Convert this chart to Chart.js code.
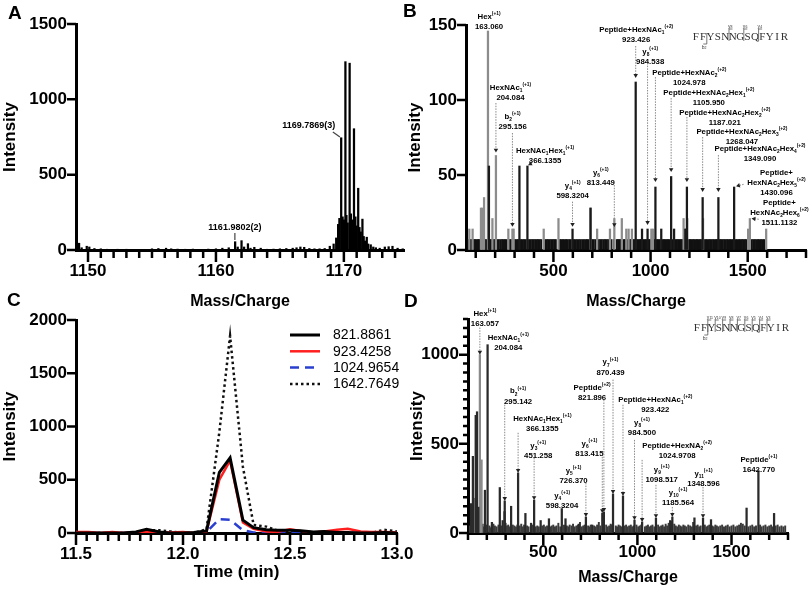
<!DOCTYPE html>
<html><head><meta charset="utf-8">
<script src="https://cdn.jsdelivr.net/npm/chart.js@4.4.1/dist/chart.umd.min.js"></script>
<style>
html,body{margin:0;padding:0;background:#fff}
#fig{position:relative;width:810px;height:593px;overflow:hidden;background:#fff}
canvas{position:absolute}
.lt{position:absolute;font:bold 19px 'Liberation Sans',Arial,sans-serif;line-height:19px;color:#000}
</style></head><body>
<div id="fig">
<canvas id="cA" width="410" height="312" style="left:0px;top:0px"></canvas>
<canvas id="cB" width="405" height="312" style="left:405px;top:0px"></canvas>
<canvas id="cC" width="440" height="303" style="left:0px;top:290px"></canvas>
<canvas id="cD" width="405" height="303" style="left:405px;top:290px"></canvas>
<div class="lt" style="left:8px;top:3px">A</div>
<div class="lt" style="left:403px;top:1px">B</div>
<div class="lt" style="left:7px;top:290px">C</div>
<div class="lt" style="left:404px;top:291px">D</div>
</div>
<script>
// ---------------- DATA ----------------
// Panel A: MS1 spectrum (m/z, intensity)
const aMz = [1149.3,1149.5,1149.9,1150.1,1150.5,1151.0,1151.5,1152.3,1153.0,1154.0,1155.0,1155.5,1156.1,1156.5,1157.0,1157.6,1158.2,1158.7,1159.4,1160.0,1160.5,1161.0,1161.5,1161.7,1162.0,1162.2,1162.5,1162.7,1163.0,1163.5,1164.0,1164.5,1165.0,1165.5,1166.0,1166.3,1166.6,1166.9,1167.3,1167.7,1168.1,1168.5,1168.9,1169.2,1169.4,1169.55,1169.65,1169.79,1169.9,1170.0,1170.12,1170.2,1170.3,1170.45,1170.55,1170.65,1170.79,1170.9,1171.0,1171.12,1171.22,1171.32,1171.45,1171.55,1171.65,1171.79,1171.9,1172.1,1172.3,1172.5,1172.8,1173.2,1173.5,1173.8,1174.2,1174.6];
const aInt = [45,15,25,20,10,8,5,5,5,4,8,10,12,8,6,5,6,4,6,8,12,15,55,20,62,20,42,12,18,12,5,6,8,10,12,15,20,18,10,8,8,10,25,40,80,170,210,745,220,200,1250,230,180,1240,240,200,805,220,160,410,150,120,205,90,60,85,40,35,20,15,12,20,22,25,12,8];
const aXTicks = [1150,1160,1170];
const aYTicks = [0,500,1000,1500];

// Panel B: MS2 spectrum
const bGrayMz  = [67,84,127,134,143,163.06,186,204.08,268,289,295.16,450,526,691,725,791,813.45,852,875,887,904,1004,1012,1170,1179,1189,1270,1502,1511.11,1595];
const bGrayInt = [14,14,28,28,35,146,21,63,14,14,14,14,21,28,14,14,21,21,14,14,14,14,14,21,14,21,21,14,21,14];
const bBlackMz  = [168,325,366.14,598.32,691,923.43,956,984.54,1024.98,1055,1105.95,1121,1179,1187.02,1268.05,1349.09,1430.1];
const bBlackInt = [56,56,56,14,28,112,14,14,42,14,49,14,14,42,35,35,42];
const bNoise = [[62,7],[71,7],[79,7],[90,7],[97,7],[104,7],[112,7],[118,7],[126,7],[139,7],[148,7],[155,7],[174,7],[181,7],[192,7],[198,7],[211,7],[219,7],[228,7],[236,7],[243,7],[251,7],[259,7],[274,7],[281,7],[302,7],[311,7],[318,7],[333,7],[341,7],[349,7],[357,7],[375,7],[383,7],[391,7],[398,7],[406,7],[414,7],[421,7],[429,7],[437,7],[458,7],[466,7],[473,7],[481,7],[489,7],[497,7],[505,7],[512,7],[534,7],[541,7],[549,7],[557,7],[565,7],[572,7],[581,7],[589,7],[606,7],[614,7],[622,7],[631,7],[639,7],[648,7],[657,7],[666,7],[673,7],[681,7],[699,7],[707,7],[716,7],[733,7],[741,7],[749,7],[758,7],[766,7],[774,7],[782,7],[797,7],[810,7],[826,7],[833,7],[840,7],[846,7],[861,7],[868,7],[880,7],[893,7],[898,7],[910,7],[917,7],[931,7],[938,7],[945,7],[951,7],[962,7],[970,7],[977,7],[992,7],[999,7],[1019,7],[1033,7],[1040,7],[1047,7],[1062,7],[1069,7],[1076,7],[1083,7],[1090,7],[1097,7],[1114,7],[1128,7],[1135,7],[1142,7],[1149,7],[1156,7],[1163,7],[1184,7],[1196,7],[1203,7],[1210,7],[1217,7],[1224,7],[1232,7],[1239,7],[1246,7],[1254,7],[1261,7],[1277,7],[1285,7],[1292,7],[1300,7],[1307,7],[1314,7],[1322,7],[1329,7],[1337,7],[1343,7],[1357,7],[1364,7],[1371,7],[1379,7],[1386,7],[1394,7],[1401,7],[1409,7],[1416,7],[1424,7],[1440,7],[1447,7],[1455,7],[1462,7],[1470,7],[1477,7],[1485,7],[1492,7],[1521,7],[1529,7],[1537,7],[1545,7],[1553,7],[1560,7],[1568,7],[1576,7],[1584,7]];
const bXTicks = [500,1000,1500];
const bYTicks = [0,50,100,150];

// Panel C: extracted ion chromatograms
const cTimes = [11.5,11.56,11.61,11.67,11.72,11.78,11.83,11.89,11.94,12.0,12.05,12.11,12.17,12.22,12.28,12.33,12.39,12.44,12.5,12.55,12.61,12.66,12.72,12.77,12.83,12.88,12.94,13.0];
const c821  = [0,0,0,0,0,10,35,10,0,0,5,20,570,705,120,50,30,25,25,20,10,15,5,5,0,0,5,0];
const c923  = [10,10,0,10,0,5,15,0,5,10,0,15,500,680,100,40,15,10,35,20,5,15,30,40,15,10,10,5];
const c1024 = [0,0,0,0,0,0,0,0,0,0,0,10,130,125,25,5,0,0,10,5,0,0,0,0,0,0,0,0];
const c1642 = [0,0,0,0,0,0,25,25,15,0,0,35,950,1850,620,75,60,25,15,5,0,10,5,0,0,0,30,15];
const cSeriesNames = ['821.8861','923.4258','1024.9654','1642.7649'];
const cXTicks = [11.5,12.0,12.5,13.0];
const cYTicks = [0,500,1000,1500,2000];

// Panel D: MS2 spectrum
const dMainMz  = [116,126,141,148,155,190,204.08,227,269,284,294,295.14,329,366.14,405,435,451.26,486,530,598.32,618,689,726.37,760,813.42,821.9,870.44,923.42,984.5,1024.97,1098.52,1174,1185.56,1303,1348.6,1391,1580,1642.77,1726];
const dMainInt = [165,430,660,680,145,240,1056,60,255,70,120,180,150,337,110,55,185,70,80,137,80,50,90,45,112,118,219,208,73,62,84,70,90,85,84,75,140,350,110];
const dGrayMz  = [135,163.06,172];
const dGrayInt = [195,1000,410];
const dNoise = [[110,40],[120,55],[131,35],[138,60],[145,30],[152,45],[158,70],[168,40],[178,50],[185,35],[196,45],[214,40],[221,30],[235,50],[243,40],[252,35],[262,45],[276,40],[300,55],[307,40],[314,45],[322,35],[338,45],[346,40],[355,35],[362,45],[375,40],[383,50],[392,35],[398,45],[414,40],[422,35],[441,45],[448,40],[460,35],[468,40],[476,35],[495,40],[503,45],[511,35],[520,40],[538,35],[545,40],[553,45],[562,35],[570,40],[580,55],[590,35],[610,45],[625,40],[633,35],[640,45],[650,40],[658,50],[667,35],[676,40],[684,45],[695,60],[704,35],[712,40],[720,45],[738,40],[746,35],[752,45],[770,40],[778,35],[786,45],[795,60],[803,40],[818,50],[834,45],[842,35],[850,40],[858,50],[864,45],[885,40],[892,35],[900,45],[908,40],[915,35],[933,40],[940,45],[948,35],[956,40],[965,45],[972,35],[980,40],[995,45],[1004,35],[1012,40],[1020,45],[1040,35],[1048,40],[1056,45],[1064,35],[1072,40],[1080,45],[1090,35],[1110,45],[1118,35],[1126,40],[1134,45],[1142,35],[1150,50],[1158,40],[1166,55],[1180,65],[1196,50],[1204,40],[1212,35],[1220,45],[1228,40],[1236,35],[1244,45],[1252,40],[1260,35],[1270,45],[1280,40],[1290,35],[1296,60],[1312,40],[1320,45],[1328,35],[1336,40],[1358,45],[1366,35],[1374,40],[1382,45],[1398,40],[1406,35],[1414,45],[1422,40],[1430,35],[1440,40],[1450,45],[1460,35],[1470,40],[1480,45],[1490,35],[1500,40],[1510,45],[1520,35],[1530,40],[1540,45],[1550,55],[1560,50],[1570,40],[1590,35],[1600,40],[1610,45],[1620,35],[1630,40],[1652,45],[1660,35],[1670,40],[1680,45],[1690,35],[1700,40],[1710,45],[1718,35],[1735,40],[1745,45],[1755,35],[1765,40],[1775,35],[1785,40]];
const dXTicks = [500,1000,1500];
const dYTicks = [0,500,1000];

// Peak annotations (label anchor in data units)
const annA = [
 {x:1167.26, y:829, text:'1169.7869(3)', lead:[1169.14,783,1169.69,750]},
 {x:1161.48, y:146, text:'1161.9802(2)', lead:[1161.48,113,1161.48,66]}
];
const annB = [
 {x:168.6, y:156, lines:['Hex^{(+1)}','163.060']},
 {x:279, y:108.7, lines:['HexNAc_{1}^{(+1)}','204.084'], lead:[204.08,98,65]},
 {x:290, y:89.3, lines:['b_{2}^{(+1)}','295.156'], lead:[289,78,15.5]},
 {x:457, y:66.7, lines:['HexNAc_{1}Hex_{1}^{(+1)}','366.1355'], arr:[390,58,370,56.5]},
 {x:599, y:43.3, lines:['y_{4}^{(+1)}','598.3204'], lead:[598.32,32.2,15.5]},
 {x:744, y:52.2, lines:['y_{6}^{(+1)}','813.449'], lead:[813.45,43.3,15.3]},
 {x:926, y:147.1, lines:['Peptide+HexNAc_{1}^{(+2)}','923.426'], lead:[923.43,136,114.7]},
 {x:998, y:132.7, lines:['y_{8}^{(+1)}','984.538'], lead:[984.54,124.7,16.7]},
 {x:1199, y:118.7, lines:['Peptide+HexNAc_{2}^{(+2)}','1024.978'], lead:[1024.98,115.3,45.3]},
 {x:1300, y:105.3, lines:['Peptide+HexNAc_{2}Hex_{1}^{(+2)}','1105.950'], lead:[1105.95,101.3,52]},
 {x:1382, y:92, lines:['Peptide+HexNAc_{2}Hex_{2}^{(+2)}','1187.021'], lead:[1187.02,88.7,45.3]},
 {x:1470, y:79.3, lines:['Peptide+HexNAc_{2}Hex_{3}^{(+2)}','1268.047'], lead:[1268.05,75.3,38.7]},
 {x:1563, y:68, lines:['Peptide+HexNAc_{2}Hex_{4}^{(+2)}','1349.090'], lead:[1349.09,63.3,38.7]},
 {x:1648, y:52.2, lines:['Peptide+','HexNAc_{2}Hex_{5}^{(+2)}','1430.096'], arr:[1479,43.8,1440,42.5]},
 {x:1663, y:32.2, lines:['Peptide+','HexNAc_{2}Hex_{6}^{(+2)}','1511.1132'], arr:[1557,20.5,1520,21]}
];
const annD = [
 {x:190, y:1233, lines:['Hex^{(+1)}','163.057'], lead:[163.06,1152,1000]},
 {x:314, y:1098, lines:['HexNAc_{1}^{(+1)}','204.084']},
 {x:366, y:798, lines:['b_{2}^{(+1)}','295.142'], lead:[295.14,719,180]},
 {x:495, y:644, lines:['HexNAc_{1}Hex_{1}^{(+1)}','366.1355'], lead:[366.14,562,337]},
 {x:473, y:494, lines:['y_{3}^{(+1)}','451.258'], lead:[451.26,421,185]},
 {x:600, y:213, lines:['y_{4}^{(+1)}','598.3204']},
 {x:661, y:354, lines:['y_{5}^{(+1)}','726.370'], lead:[726.37,281,90]},
 {x:745, y:506, lines:['y_{6}^{(+1)}','813.415'], lead:[813.42,427,112]},
 {x:759, y:820, lines:['Peptide^{(+2)}','821.896'], lead:[821.9,747,118]},
 {x:857, y:961, lines:['y_{7}^{(+1)}','870.439'], lead:[870.44,860,219]},
 {x:1095, y:753, lines:['Peptide+HexNAc_{1}^{(+2)}','923.422'], lead:[923.42,719,208]},
 {x:1024, y:624, lines:['y_{8}^{(+1)}','984.500'], lead:[984.5,522,73]},
 {x:1211, y:494, lines:['Peptide+HexNA_{2}^{(+2)}','1024.9708'], lead:[1024.97,410,62]},
 {x:1129, y:360, lines:['y_{9}^{(+1)}','1098.517'], lead:[1098.52,270,84]},
 {x:1216, y:230, lines:['y_{10}^{(+1)}','1185.564'], lead:[1185.56,146,90]},
 {x:1351, y:337, lines:['y_{11}^{(+1)}','1348.596'], lead:[1348.6,258,84]},
 {x:1645, y:416, lines:['Peptide^{(+1)}','1642.770']}
];
const peptideSeq = 'FFYSNNGSQFYIR';
const seqB = {y:[[5,'8'],[7,'6'],[9,'4']], b:[[2,'2']]};
const seqD = {y:[[2,'11'],[3,'10'],[4,'9'],[5,'8'],[6,'7'],[7,'6'],[8,'5'],[9,'4'],[10,'3']], b:[[2,'2']]};

// ---------------- HELPERS ----------------
const FONT = "'Liberation Sans', Arial, sans-serif";
function pts(xs, ys){ return xs.map((x,i)=>({x:x, y:ys[i]})); }
function ptp(a){ return a.map(p=>({x:p[0], y:p[1]})); }
function steps(a,b,s){ const r=[]; const n=Math.round((b-a)/s); for(let i=0;i<=n;i++) r.push(+(a+i*s).toFixed(4)); return r; }

function xAxis(o){ return {type:'linear', position:'bottom', min:o.min, max:o.max, offset:false,
  afterBuildTicks:s=>{ s.ticks=o.ticks.map(v=>({value:v})); },
  afterFit:s=>{ s.height=o.H; },
  ticks:{autoSkip:false, maxRotation:0, minRotation:0, padding:o.pad, color:'#000',
         font:{family:FONT, size:17, weight:'bold'}, callback:(v)=> o.fmt ? o.fmt(v) : String(v)},
  grid:{display:true, drawOnChartArea:false, drawTicks:false, offset:false},
  border:{display:true, color:'#000', width:3},
  title:{display:true, text:o.title, color:'#000', font:{family:FONT, size:o.ts||16, weight:'bold'}, padding:{top:0,bottom:0}}}; }
function yAxis(o){ return {type:'linear', position:'left', min:o.min, max:o.max,
  afterBuildTicks:s=>{ s.ticks=o.ticks.map(v=>({value:v})); },
  afterFit:s=>{ s.width=o.W; },
  ticks:{autoSkip:false, padding:9, color:'#000', font:{family:FONT, size:17, weight:'bold'}, callback:(v)=>String(v)},
  grid:{display:true, drawOnChartArea:false, drawTicks:false},
  border:{display:true, color:'#000', width:3},
  title:{display:true, text:'Intensity', color:'#000', font:{family:FONT, size:17, weight:'bold'}, padding:{top:o.tp||0,bottom:0}}}; }

function rich(ctx, s, cx, cy, size){
  const segs=[]; let i=0, buf='';
  while(i<s.length){ const c=s[i];
    if((c==='_'||c==='^') && s[i+1]==='{'){ if(buf){segs.push({t:buf,m:0});buf='';}
      const j=s.indexOf('}',i+2); segs.push({t:s.slice(i+2,j), m:c==='_'?1:2}); i=j+1; }
    else { buf+=c; i++; } }
  if(buf) segs.push({t:buf,m:0});
  const sm=size*0.62; let w=0;
  segs.forEach(g=>{ ctx.font='bold '+(g.m?sm:size)+'px '+FONT; g.w=ctx.measureText(g.t).width; w+=g.w; });
  let x=cx-w/2; const base=cy+size*0.36;
  ctx.textAlign='left'; ctx.textBaseline='alphabetic';
  segs.forEach(g=>{ ctx.font='bold '+(g.m?sm:size)+'px '+FONT;
    const dy = g.m===1 ? size*0.28 : (g.m===2 ? -size*0.48 : 0);
    ctx.fillText(g.t, x, base+dy); x+=g.w; });
}
function arrowHead(ctx, x, y, dx, dy){ const L=Math.hypot(dx,dy)||1; const ux=dx/L, uy=dy/L; const s=3.2;
  ctx.beginPath(); ctx.moveTo(x,y); ctx.lineTo(x-ux*s*1.2-uy*s*0.7, y-uy*s*1.2+ux*s*0.7); ctx.lineTo(x-ux*s*1.2+uy*s*0.7, y-uy*s*1.2-ux*s*0.7); ctx.closePath(); ctx.fill(); }

function deco(id, conf){ return {id:id, afterDraw(chart){
  const ctx=chart.ctx, xs=chart.scales.x, ys=chart.scales.y;
  const X=v=>xs.getPixelForValue(v), Y=v=>ys.getPixelForValue(v);
  ctx.save();
  // axis tick marks
  const t=conf.ticks; const ay=xs.top, ax=ys.right;
  ctx.strokeStyle='#000'; ctx.lineWidth=2.5; ctx.setLineDash([]);
  ctx.beginPath();
  const isMaj=(v,arr)=>arr.some(m=>Math.abs(m-v)<1e-6);
  t.xMin.forEach(v=>{ if(isMaj(v,t.xMaj)) return; const p=X(v); ctx.moveTo(p,ay); ctx.lineTo(p,ay+t.xmL); });
  t.xMaj.forEach(v=>{ const p=X(v); ctx.moveTo(p,ay); ctx.lineTo(p,ay+t.xML); });
  (t.yMin||[]).forEach(v=>{ if(isMaj(v,t.yMaj)) return; const p=Y(v); ctx.moveTo(ax,p); ctx.lineTo(ax-t.ymL,p); });
  t.yMaj.forEach(v=>{ const p=Y(v); ctx.moveTo(ax,p); ctx.lineTo(ax-t.yML,p); });
  ctx.stroke();
  // simple text annotations (panel A)
  (conf.plain||[]).forEach(a=>{
    ctx.fillStyle='#000'; ctx.font='bold '+conf.fs+'px '+FONT; ctx.textAlign='center'; ctx.textBaseline='middle';
    ctx.fillText(a.text, X(a.x), Y(a.y));
    const l=a.lead; ctx.strokeStyle='#444'; ctx.lineWidth=1.2; ctx.beginPath(); ctx.moveTo(X(l[0]),Y(l[1])); ctx.lineTo(X(l[2]),Y(l[3])); ctx.stroke();
  });
  // rich annotations with leaders
  (conf.ann||[]).forEach(a=>{
    ctx.fillStyle='#000';
    a.lines.forEach((ln,k)=>rich(ctx, ln, X(a.x), Y(a.y)+k*conf.gap, conf.fs));
    ctx.strokeStyle='#8a8a8a'; ctx.lineWidth=1; ctx.setLineDash([1.5,1.2]);
    if(a.lead){ const px=X(a.lead[0]), p1=Y(a.lead[1]), p2=Y(a.lead[2]);
      ctx.beginPath(); ctx.moveTo(px,p1); ctx.lineTo(px,p2-3); ctx.stroke();
      ctx.fillStyle='#222'; arrowHead(ctx, px, p2, 0, 1); }
    if(a.arr){ const x1=X(a.arr[0]), y1=Y(a.arr[1]), x2=X(a.arr[2]), y2=Y(a.arr[3]);
      ctx.beginPath(); ctx.moveTo(x1,y1); ctx.lineTo(x2,y2); ctx.stroke();
      ctx.fillStyle='#222'; arrowHead(ctx, x2, y2, x2-x1, y2-y1); }
    ctx.setLineDash([]);
  });
  // peptide sequence with fragment markers
  if(conf.seq){ const s=conf.seq, x0=s.x0, cy=s.cy, cw=s.cw;
    ctx.fillStyle='#333'; ctx.font='11px "Liberation Serif", serif'; ctx.textAlign='center'; ctx.textBaseline='middle';
    for(let i=0;i<peptideSeq.length;i++) ctx.fillText(peptideSeq[i], x0+cw*(i+0.5), cy);
    ctx.strokeStyle='#555'; ctx.lineWidth=0.8;
    s.frag.y.forEach(f=>{ const bx=x0+cw*f[0]; ctx.beginPath(); ctx.moveTo(bx,cy+4); ctx.lineTo(bx,cy-8); ctx.lineTo(bx+3.5,cy-8); ctx.stroke();
      ctx.font='5px '+FONT; ctx.textAlign='left'; ctx.fillText('y',bx-1,cy-10.5); ctx.font='3.5px '+FONT; ctx.fillText(f[1],bx+1.6,cy-9.5); });
    s.frag.b.forEach(f=>{ const bx=x0+cw*f[0]; ctx.beginPath(); ctx.moveTo(bx,cy-4); ctx.lineTo(bx,cy+7); ctx.lineTo(bx-3.5,cy+7); ctx.stroke();
      ctx.font='5px '+FONT; ctx.textAlign='left'; ctx.fillText('b',bx-5,cy+10.5); ctx.font='3.5px '+FONT; ctx.fillText(f[1],bx-2.3,cy+11.5); });
  }
  // legend (panel C)
  if(conf.legend){ const L=conf.legend;
    chart.data.datasets.forEach((ds,i)=>{ const y=L.y0+i*L.dy;
      ctx.strokeStyle=ds.borderColor; ctx.lineWidth=ds.borderWidth; ctx.setLineDash(ds.borderDash||[]);
      ctx.beginPath(); ctx.moveTo(L.x1,y); ctx.lineTo(L.x2,y); ctx.stroke(); ctx.setLineDash([]);
      ctx.fillStyle='#000'; ctx.font='14px '+FONT; ctx.textAlign='left'; ctx.textBaseline='middle'; ctx.fillText(ds.label, L.tx, y+0.5); });
  }
  ctx.restore();
}}; }

const common = {responsive:false, animation:false, devicePixelRatio:1,
  plugins:{legend:{display:false}, tooltip:{enabled:false}}};
function barDS(data, color, th){ return {data:data, backgroundColor:color, borderWidth:0, barThickness:th, grouped:false}; }

// ---------------- PANEL A ----------------
new Chart(document.getElementById('cA'), {type:'bar',
  data:{datasets:[barDS(pts(aMz,aInt), '#000', 1.6)]},
  options:Object.assign({}, common, {layout:{padding:{left:0,top:24,right:6,bottom:1}},
    scales:{x:xAxis({min:1149.06,max:1174.7,ticks:aXTicks,H:61,pad:11,title:'Mass/Charge'}),
            y:yAxis({min:0,max:1500,ticks:aYTicks,W:76})}}),
  plugins:[deco('decoA',{ticks:{xMaj:aXTicks,xMin:steps(1150,1174,1),xML:12,xmL:8,yMaj:aYTicks,yML:9},
     plain:annA, fs:9})]});

// ---------------- PANEL B ----------------
new Chart(document.getElementById('cB'), {type:'bar',
  data:{datasets:[barDS(pts(bBlackMz,bBlackInt),'#1a1a1a',1.6), barDS(pts(bGrayMz,bGrayInt),'#8c8c8c',1.6), barDS(ptp(bNoise),'#111',1.4)]},
  options:Object.assign({}, common, {layout:{padding:{left:0,top:25,right:4,bottom:1}},
    scales:{x:xAxis({min:50,max:1800,ticks:bXTicks,H:61,pad:11,title:'Mass/Charge'}),
            y:yAxis({min:0,max:150,ticks:bYTicks,W:61})}}),
  plugins:[deco('decoB',{ticks:{xMaj:bXTicks,xMin:steps(100,1800,100),xML:12,xmL:8,yMaj:bYTicks,yML:9},
     ann:annB, fs:7.8, gap:10, seq:{x0:287, cy:37, cw:7.4, frag:seqB}})]});

// ---------------- PANEL C ----------------
new Chart(document.getElementById('cC'), {type:'line',
  data:{datasets:[
    {label:cSeriesNames[0], data:pts(cTimes,c821),  borderColor:'#000', borderWidth:3, pointRadius:0, tension:0, fill:false},
    {label:cSeriesNames[1], data:pts(cTimes,c923),  borderColor:'#ff1f1f', borderWidth:2.5, pointRadius:0, tension:0, fill:false},
    {label:cSeriesNames[2], data:pts(cTimes,c1024), borderColor:'#2a3fd0', borderWidth:2.5, borderDash:[9,6], pointRadius:0, tension:0, fill:false},
    {label:cSeriesNames[3], data:pts(cTimes,c1642), borderColor:'#111', borderWidth:2.5, borderDash:[2.5,3], pointRadius:0, tension:0, fill:false}]},
  options:Object.assign({}, common, {layout:{padding:{left:0,top:30,right:43,bottom:10}},
    scales:{x:xAxis({min:11.5,max:13.0,ticks:cXTicks,H:50,pad:11,title:'Time (min)',ts:17,fmt:v=>v.toFixed(1)}),
            y:yAxis({min:0,max:2000,ticks:cYTicks,W:76})}}),
  plugins:[deco('decoC',{ticks:{xMaj:cXTicks,xMin:steps(11.5,13.0,0.05),xML:12,xmL:8,yMaj:cYTicks,yML:9},
     legend:{x1:290,x2:320,tx:333,y0:45,dy:16.3}})]});

// ---------------- PANEL D ----------------
new Chart(document.getElementById('cD'), {type:'bar',
  data:{datasets:[barDS(pts(dMainMz,dMainInt),'#2a2a2a',1.6), barDS(pts(dGrayMz,dGrayInt),'#8a8a8a',1.6), barDS(ptp(dNoise),'#3a3a3a',1.3)]},
  options:Object.assign({}, common, {layout:{padding:{left:0,top:29,right:22,bottom:6}},
    scales:{x:xAxis({min:100,max:1800,ticks:dXTicks,H:54,pad:9,title:'Mass/Charge'}),
            y:yAxis({min:0,max:1200,ticks:dYTicks,W:63,tp:2})}}),
  plugins:[deco('decoD',{ticks:{xMaj:dXTicks,xMin:steps(100,1800,100),xML:12,xmL:7,yMaj:dYTicks,yMin:steps(0,1200,50),yML:9,ymL:5},
     ann:annD, fs:7.8, gap:10.5, seq:{x0:288, cy:38, cw:7.4, frag:seqD}})]});
</script>
</body></html>
